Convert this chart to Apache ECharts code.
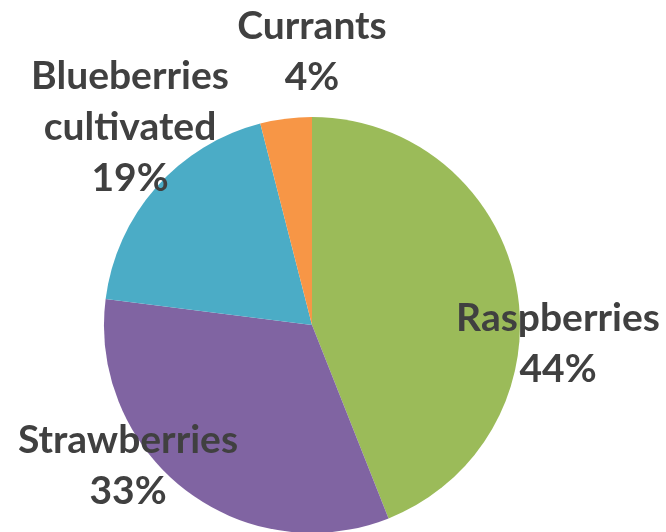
<!DOCTYPE html>
<html><head><meta charset="utf-8">
<script src="https://cdn.jsdelivr.net/npm/echarts@6/dist/echarts.min.js"></script>
<style>html,body{margin:0;padding:0;background:#fff}#c{width:666px;height:532px}</style>
</head><body><div id="c"></div>
<script>
const categories = ['Raspberries', 'Strawberries', 'Blueberries\ncultivated', 'Currants'];
const values = [44, 33, 19, 4];
const colors = ['#9BBB59', '#8064A2', '#4BACC6', '#F79646'];
const labelPos = [[558, 344], [128, 466], [130, 127], [312, 52]];

const chart = echarts.init(document.getElementById('c'));
chart.setOption({
  animation: false,
  series: [{
    type: 'pie',
    center: [312, 325],
    radius: 208,
    startAngle: 90,
    clockwise: true,
    data: categories.map((n, i) => ({ name: n, value: values[i], itemStyle: { color: colors[i] } })),
    label: {
      show: true,
      position: 'inside',
      formatter: p => p.name + '\n' + p.value + '%',
      fontFamily: 'Lato',
      fontWeight: 'bold',
      fontSize: 39,
      lineHeight: 51,
      color: '#404040',
      align: 'center'
    },
    labelLine: { show: false },
    labelLayout: function (params) {
      const p = labelPos[params.dataIndex];
      return { x: p[0], y: p[1], align: 'center', verticalAlign: 'middle' };
    },
    emphasis: { disabled: true }
  }]
});
</script></body></html>
